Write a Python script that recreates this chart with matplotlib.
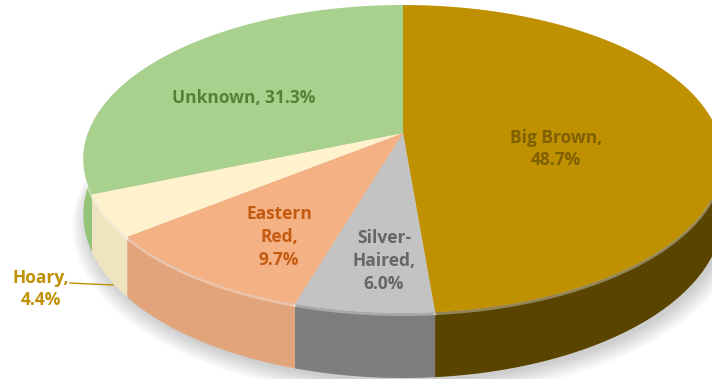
import numpy as np
import matplotlib.pyplot as plt
from matplotlib.patches import Polygon

# bat species share
species = ['Big Brown', 'Silver-Haired', 'Eastern Red', 'Hoary', 'Unknown']
share = [48.7, 6.0, 9.7, 4.4, 31.3]
label_names = ['Big Brown,\n', 'Silver-\nHaired,\n', 'Eastern\nRed,\n', 'Hoary,\n', 'Unknown, ']

top_colors = ['#BF9000', '#C3C3C3', '#F4B183', '#FFF2CC', '#A9D18E']
wall_colors = ['#594400', '#7E7E7E', '#E2A47A', '#F0E4C0', '#94C478']
text_colors = ['#7F6000', '#666666', '#C55A11', '#BF9000', '#548235']

# label centres in pixels
label_pos = [(556, 149), (384, 261), (279, 237), (41, 289), (244, 98)]

# perspective pie geometry (pixels)
cx, cy = 403, 133
rx, ry = 315, 149.6
persp = 0.169
depth = 54


def project(t, r=1.0):
    x = r * np.cos(t)
    y = r * np.sin(t)
    s = 1.0 / (1.0 + persp * y)
    return cx + rx * x * s, cy - ry * y * s, s


fig = plt.figure(figsize=(7.12, 3.79), dpi=100)
ax = fig.add_axes([0, 0, 1, 1])
ax.set_xlim(0, 712)
ax.set_ylim(379, 0)
ax.axis('off')

fracs = np.array(share) / sum(share)
edges = np.deg2rad(90 - 360 * np.concatenate([[0], np.cumsum(fracs)]))

# soft shadow under the pie
tt = np.linspace(0, 2 * np.pi, 300)
for i in range(8):
    gx, gy, gs = project(tt, 1.0 + 0.006 * i)
    ax.add_patch(Polygon(np.column_stack([gx + 3, gy + depth * gs + 4 + i * 0.8]),
                         closed=True, fc='#000000', ec='none', alpha=0.025, zorder=1))

# side walls, front half only
walls = []
for i in range(len(share)):
    a0, a1 = edges[i], edges[i + 1]
    for off in (0, -2 * np.pi):
        lo, hi = max(min(a0, a1) + off, -np.pi), min(max(a0, a1) + off, 0)
        if hi > lo:
            walls.append((i, lo, hi))
for i, lo, hi in walls:
    t = np.linspace(lo, hi, 80)
    x, y, s = project(t)
    pts = np.vstack([np.column_stack([x, y]),
                     np.column_stack([x, y + depth * s])[::-1]])
    ax.add_patch(Polygon(pts, closed=True, fc=wall_colors[i], ec='none', zorder=2))
    # light rim along the top of the wall
    ax.plot(x, y + 1.5, color='white', alpha=0.35, lw=2, zorder=2.5)

# top faces
for i in range(len(share)):
    t = np.linspace(edges[i], edges[i + 1], 150)
    x, y, _ = project(t)
    pts = np.vstack([[cx, cy], np.column_stack([x, y])])
    ax.add_patch(Polygon(pts, closed=True, fc=top_colors[i], ec='none', zorder=3))

# data labels
for i, name in enumerate(species):
    txt = f'{label_names[i]}{share[i]:.1f}%'
    px, py = label_pos[i]
    ax.text(px, py, txt, ha='center', va='center', fontsize=12.5,
            fontweight='bold', family='Open Sans', color=text_colors[i],
            linespacing=1.35, zorder=5)

# leader line for the small slice label
ax.plot([70, 90, 113], [283, 284, 285], color='#BF9000', lw=1, zorder=5)

fig.savefig('out.png', dpi=100)
